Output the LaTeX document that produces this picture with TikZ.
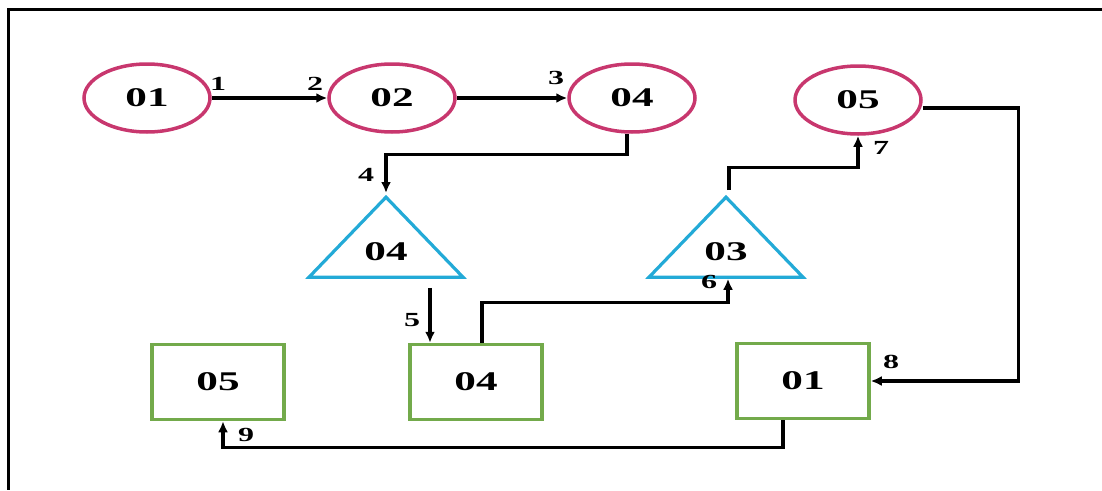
\documentclass[tikz,border=0pt]{standalone}
\usepackage{fontspec}
\setmainfont{Liberation Serif}
\usetikzlibrary{shapes.geometric,arrows.meta}

\definecolor{rosered}{RGB}{200,55,110}
\definecolor{skyblue}{RGB}{35,170,215}
\definecolor{leafgreen}{RGB}{115,170,75}

\newcommand{\widetxt}[1]{\scalebox{1.6}[1]{#1}}

\tikzset{
  state/.style={draw=rosered, line width=3.5pt, ellipse, minimum width=126pt, minimum height=68pt,
    font=\fontsize{27}{29}\selectfont\bfseries},
  gate/.style={draw=skyblue, line width=3.2pt, isosceles triangle, shape border rotate=90,
    isosceles triangle stretches, minimum width=154pt, minimum height=80pt, inner sep=0pt,
    font=\fontsize{27}{29}\selectfont\bfseries},
  block/.style={draw=leafgreen, line width=3.5pt, rectangle, minimum width=132pt, minimum height=75pt,
    font=\fontsize{27}{29}\selectfont\bfseries},
  flow/.style={line width=3.2pt, -{Latex[length=11pt,width=10pt]}},
  tag/.style={font=\fontsize{20}{22}\selectfont\bfseries, inner sep=0pt}
}

\begin{document}
\begin{tikzpicture}[x=1pt,y=-1pt]
  \useasboundingbox (0,0) rectangle (1102,490);
  % frame
  \draw[line width=3pt] (1102,9) -- (8,9) -- (8,490);

  % top row
  \node[state] (s1) at (147,98) {\widetxt{01}};
  \node[state] (s2) at (392,98) {\widetxt{02}};
  \node[state] (s4) at (632,98) {\widetxt{04}};
  \node[state] (s5) at (858,100) {\widetxt{05}};

  % triangles
  \node[gate, anchor=apex] (t4) at (386,193) {\widetxt{04}};
  \node[gate, anchor=apex] (t3) at (726,193) {\widetxt{03}};

  % boxes
  \node[block] (b5) at (218,382) {\widetxt{05}};
  \node[block] (b4) at (476,382) {\widetxt{04}};
  \node[block] (b1) at (803,381) {\widetxt{01}};

  % connectors
  \draw[flow] (s1.east) -- (s2.west);
  \draw[flow] (s2.east) -- (s4.west);
  \draw[flow] ([xshift=-5pt]s4.south) -- ++(0,21) -| (t4.apex);
  \draw[flow] ([xshift=44pt,yshift=-9pt]t4.lower side) -- ([xshift=-46pt]b4.north);
  \draw[flow] ([xshift=6pt]b4.north) |- ([xshift=2pt,yshift=-24pt]t3.lower side) -- ([xshift=2pt]t3.lower side);
  \draw[flow] ([xshift=3pt,yshift=3pt]t3.apex) |- ([yshift=-32pt]s5.south) -- (s5.south);
  \draw[flow] ([yshift=-8pt]s5.east) -- ++(96,0) |- (b1.east);
  \draw[flow] ([xshift=-20pt]b1.south) -- ++(0,27) -| ([xshift=5pt]b5.south);

  % numbers
  \node[tag] (n1) at (218,84) {\widetxt{1}};
  \node[tag] (n2) at (315,84) {\widetxt{2}};
  \node[tag] (n3) at (556,78) {\widetxt{3}};
  \node[tag] (n4) at (366,175) {\widetxt{4}};
  \node[tag] (n5) at (412,320) {\widetxt{5}};
  \node[tag] (n6) at (709,282) {\widetxt{6}};
  \node[tag] (n7) at (881,148) {\widetxt{7}};
  \node[tag] (n8) at (891,362) {\widetxt{8}};
  \node[tag] (n9) at (246,435) {\widetxt{9}};
\end{tikzpicture}
\end{document}
